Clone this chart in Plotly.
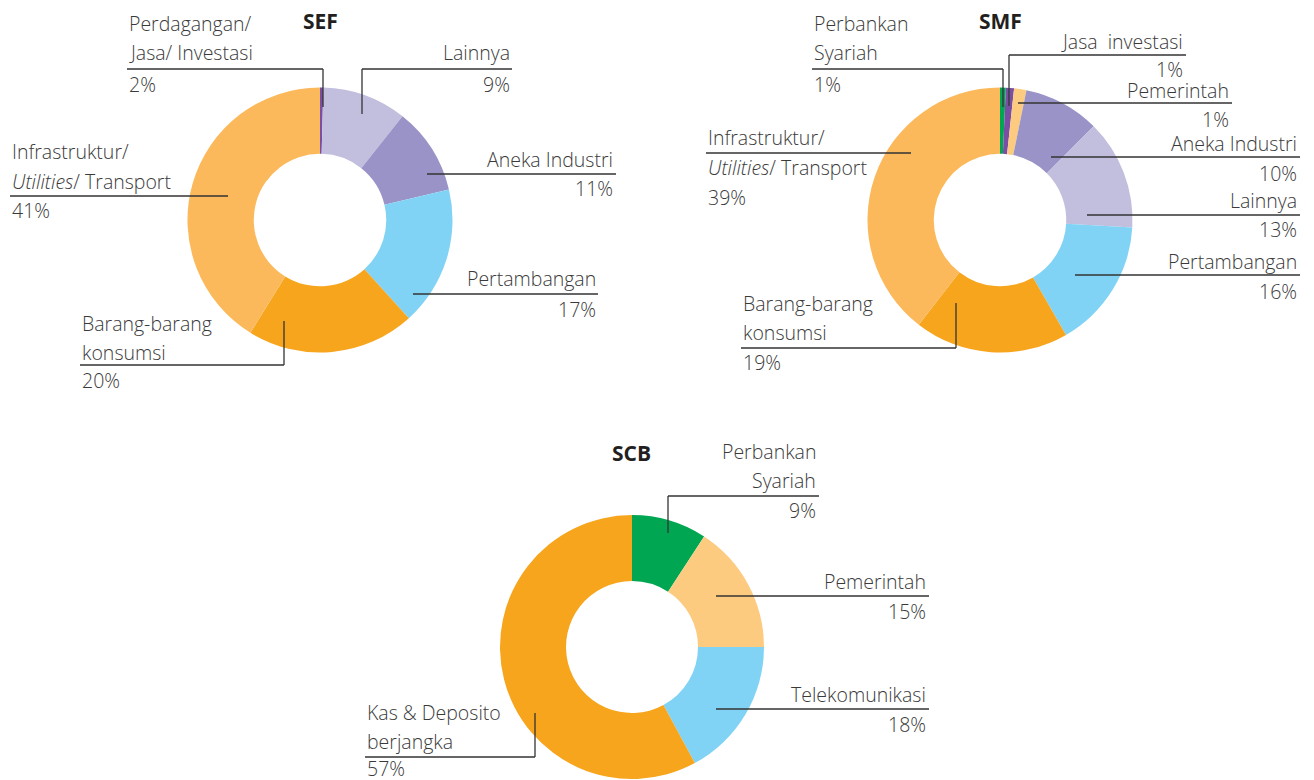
import plotly.graph_objects as go

# page offset (default body margin) and figure size
OFF = 8
FW, FH = 1306, 772

# ---------------- data ----------------
sef_labels = ["Perdagangan/ Jasa/ Investasi", "Lainnya", "Aneka Industri", "Pertambangan",
              "Barang-barang konsumsi", "Infrastruktur/ Utilities/ Transport"]
sef_values = [0.4, 10.3, 10.6, 17.0, 20.5, 41.2]
sef_pct = ["2%", "9%", "11%", "17%", "20%", "41%"]

smf_labels = ["Perbankan Syariah", "Jasa investasi", "Pemerintah", "Aneka Industri", "Lainnya",
              "Pertambangan", "Barang-barang konsumsi", "Infrastruktur/ Utilities/ Transport"]
smf_values = [0.7, 1.0, 1.5, 9.3, 13.4, 15.8, 18.8, 39.5]
smf_pct = ["1%", "1%", "1%", "10%", "13%", "16%", "19%", "39%"]

scb_labels = ["Perbankan Syariah", "Pemerintah", "Telekomunikasi", "Kas & Deposito berjangka"]
scb_values = [9.2, 15.8, 17.1, 57.9]
scb_pct = ["9%", "15%", "18%", "57%"]

# ---------------- styles ----------------
C_INFRA = "#FBB95B"
C_BARANG = "#F6A51D"
C_TAMBANG = "#80D3F5"
C_ANEKA = "#9A93C7"
C_LAIN = "#C2BEDE"
C_DPURPLE = "#7A4FA3"
C_GREEN = "#00A651"
C_PEACH = "#FDCB80"

sef_colors = [C_DPURPLE, C_LAIN, C_ANEKA, C_TAMBANG, C_BARANG, C_INFRA]
smf_colors = [C_GREEN, C_DPURPLE, C_PEACH, C_ANEKA, C_LAIN, C_TAMBANG, C_BARANG, C_INFRA]
scb_colors = [C_GREEN, C_PEACH, C_TAMBANG, C_BARANG]

FONT = "Open Sans"
TXT = "#3a3a3a"
LINE = "#333333"
FS = 19.5


def px(x):
    return (x - OFF) / FW


def py(y):
    return 1 - (y - OFF) / FH


def dom(cx, cy, r):
    return dict(x=[px(cx - r), px(cx + r)], y=[py(cy + r), py(cy - r)])


fig = go.Figure()
for labels, values, colors, (cx, cy, r) in [
    (sef_labels, sef_values, sef_colors, (320, 220, 132.5)),
    (smf_labels, smf_values, smf_colors, (1000, 220, 132.5)),
    (scb_labels, scb_values, scb_colors, (632, 647, 132)),
]:
    fig.add_trace(go.Pie(
        labels=labels, values=values, hole=0.5, sort=False, direction="clockwise",
        marker=dict(colors=colors, line=dict(width=0)), textinfo="none",
        hoverinfo="label+percent", domain=dom(cx, cy, r), showlegend=False,
    ))

annotations = []
shapes = []


def text(s, x, y, anchor="left", bold=False, size=FS, color=TXT):
    annotations.append(dict(
        text=s, x=px(x), y=py(y), xref="paper", yref="paper", xanchor=anchor,
        yanchor="middle", showarrow=False,
        font=dict(family=FONT, size=size, color=color, weight=700 if bold else 300),
    ))


def line(x0, y0, x1, y1):
    shapes.append(dict(type="line", xref="paper", yref="paper", x0=px(x0), y0=py(y0),
                       x1=px(x1), y1=py(y1), line=dict(color=LINE, width=1.3)))


# titles
text("SEF", 320, 21, "center", bold=True, size=21, color="#231F20")
text("SMF", 1000, 21, "center", bold=True, size=21, color="#231F20")
text("SCB", 631, 453, "center", bold=True, size=21, color="#231F20")

# ---- SEF labels ----
text("Perdagangan/", 127, 24)
text("Jasa/ Investasi", 127, 53)
text(sef_pct[0], 127, 84)
line(127, 69, 323, 69); line(323, 69, 323, 107)

text("Lainnya", 512, 53, "right")
text(sef_pct[1], 512, 84, "right")
line(362, 69, 512, 69); line(362, 69, 362, 114)

text("Aneka Industri", 615, 159, "right")
text(sef_pct[2], 615, 189, "right")
line(427, 174, 616, 174)

text("Pertambangan", 598, 278, "right")
text(sef_pct[3], 598, 309, "right")
line(413, 294, 598, 294)

text("Barang-barang", 80, 323)
text("konsumsi", 80, 352)
text(sef_pct[4], 80, 381)
line(80, 365, 284, 365); line(284, 365, 284, 321)

text("Infrastruktur/", 10, 151)
text("<i>Utilities</i>/ Transport", 10, 181)
text(sef_pct[5], 10, 210)
line(10, 196, 228, 196)

# ---- SMF labels ----
text("Perbankan", 812, 24)
text("Syariah", 812, 53)
text(smf_pct[0], 812, 84)
line(812, 69, 1003, 69); line(1003, 69, 1003, 107)

text("Jasa  investasi", 1185, 41, "right")
text(smf_pct[1], 1185, 70, "right")
line(1009, 55, 1186, 55); line(1009, 55, 1009, 106)

text("Pemerintah", 1231, 90, "right")
text(smf_pct[2], 1231, 120, "right")
line(1018, 103, 1232, 103)

text("Aneka Industri", 1299, 144, "right")
text(smf_pct[3], 1299, 173, "right")
line(1051, 157, 1300, 157)

text("Lainnya", 1299, 200, "right")
text(smf_pct[4], 1299, 229, "right")
line(1087, 215, 1300, 215)

text("Pertambangan", 1299, 261, "right")
text(smf_pct[5], 1299, 291, "right")
line(1075, 275, 1300, 275)

text("Barang-barang", 741, 303)
text("konsumsi", 741, 333)
text(smf_pct[6], 741, 362)
line(741, 348, 956, 348); line(956, 348, 956, 303)

text("Infrastruktur/", 706, 138)
text("<i>Utilities</i>/ Transport", 706, 168)
text(smf_pct[7], 706, 197)
line(706, 153, 911, 153)

# ---- SCB labels ----
text("Perbankan", 818, 451, "right")
text("Syariah", 818, 481, "right")
text(scb_pct[0], 818, 510, "right")
line(668, 496, 819, 496); line(668, 496, 668, 533)

text("Pemerintah", 928, 581, "right")
text(scb_pct[1], 928, 611, "right")
line(716, 596, 929, 596)

text("Telekomunikasi", 928, 694, "right")
text(scb_pct[2], 928, 724, "right")
line(716, 709, 929, 709)

text("Kas & Deposito", 365, 712)
text("berjangka", 365, 741)
text(scb_pct[3], 365, 768)
line(365, 757, 535, 757); line(535, 757, 535, 713)

fig.update_layout(
    width=FW, height=FH, margin=dict(l=0, r=0, t=0, b=0),
    paper_bgcolor="white", plot_bgcolor="white",
    annotations=annotations, shapes=shapes,
)

fig.write_html("out.html")
